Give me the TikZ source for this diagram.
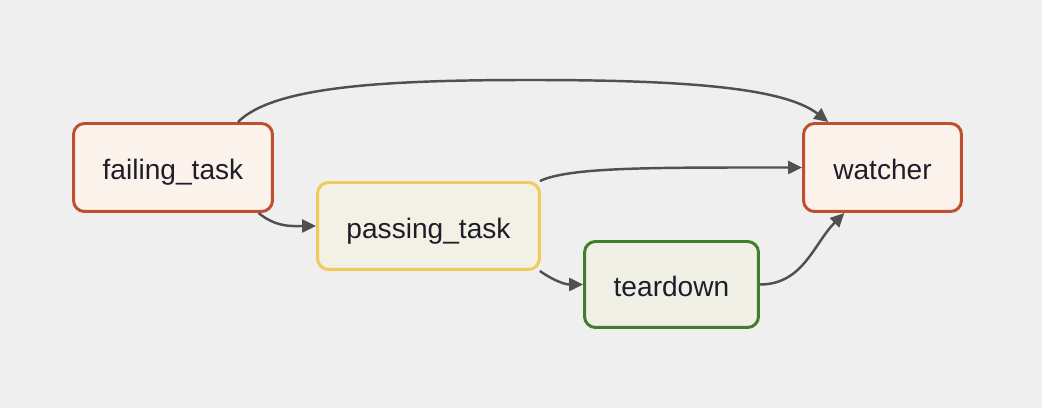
\documentclass[tikz,border=0pt]{standalone}
\usepackage{fontspec}
\setmainfont{Liberation Sans}
\usetikzlibrary{arrows.meta}

\definecolor{bg_gray}{RGB}{239,239,239}
\definecolor{red_line}{RGB}{190,80,48}
\definecolor{red_fill}{RGB}{252,242,236}
\definecolor{yellow_line}{RGB}{240,202,92}
\definecolor{yellow_fill}{RGB}{243,240,229}
\definecolor{green_line}{RGB}{62,128,42}
\definecolor{green_fill}{RGB}{240,240,231}
\definecolor{edge_gray}{RGB}{80,80,80}
\definecolor{text_dark}{RGB}{30,30,40}

\begin{document}
\begin{tikzpicture}[x=0.02cm, y=-0.02cm]

	\tikzstyle{task} = [rectangle, rounded corners=0.22cm, line width=1.7pt, inner sep=0pt, text height=0.5cm, text depth=0pt, text=text_dark, font=\fontsize{16}{19}\selectfont]
	\tikzstyle{task_red} = [task, draw=red_line, fill=red_fill]
	\tikzstyle{task_yellow} = [task, draw=yellow_line, fill=yellow_fill]
	\tikzstyle{task_green} = [task, draw=green_line, fill=green_fill]
	\tikzstyle{dep} = [-{Triangle[length=0.28cm, width=0.26cm]}, draw=edge_gray, line width=1.4pt]

	\fill[bg_gray] (0,0) rectangle (1042,408);

%------------------------------------------------------------
	\node[task_red, minimum width=3.98cm, minimum height=1.76cm] (fail) at (173,167.5) {failing\_task};
	\node[task_yellow, minimum width=4.44cm, minimum height=1.74cm] (pass) at (428.5,226) {passing\_task};
	\node[task_green, minimum width=3.48cm, minimum height=1.72cm] (tear) at (671.5,284.5) {teardown};
	\node[task_red, minimum width=3.16cm, minimum height=1.76cm] (watch) at (882.5,167.5) {watcher};

	\coordinate (top_mid) at (530,80);
%------------------------------------------------------------
	\draw[dep] (fail.35) .. controls +(35,-35) and +(-150,0) .. (top_mid)
		.. controls +(150,0) and +(-45,-35) .. (watch.140);
	\draw[dep] (fail.-28) to[out=-40, in=180] (pass.west);
	\draw[dep] (pass.22) .. controls +(30,-14) and +(-150,0) .. (watch.west);
	\draw[dep] (pass.-22) to[out=-35, in=180] (tear.west);
	\draw[dep] (tear.east) to[out=0, in=225] (watch.-130);

\end{tikzpicture}
\end{document}
